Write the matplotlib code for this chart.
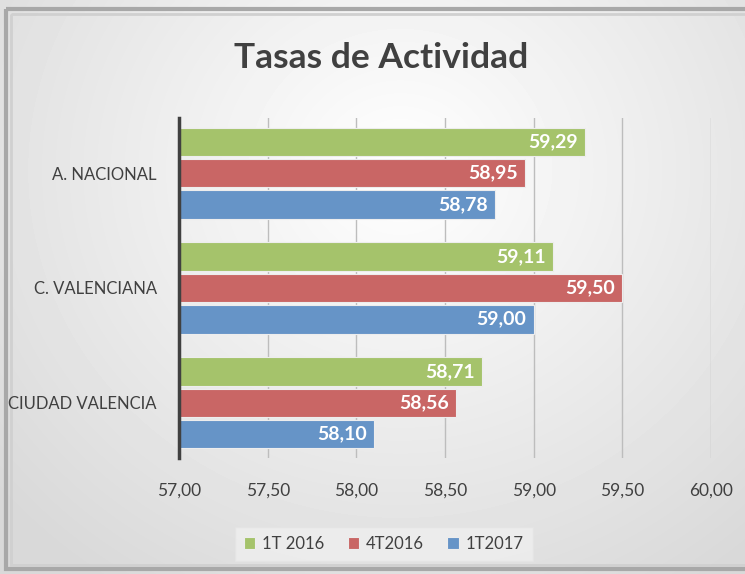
import numpy as np
import matplotlib.pyplot as plt
from matplotlib.patches import Rectangle

# Datos
categorias = ['A. NACIONAL', 'C. VALENCIANA', 'CIUDAD VALENCIA']
series = ['1T 2016', '4T2016', '1T2017']
t1_2016 = [59.29, 59.11, 58.71]
t4_2016 = [58.95, 59.50, 58.56]
t1_2017 = [58.78, 59.00, 58.10]
ticks_x = [57.0, 57.5, 58.0, 58.5, 59.0, 59.5, 60.0]

colores = ['#A5C36B', '#C96665', '#6694C7']
plt.rcParams['font.family'] = ['Lato', 'DejaVu Sans']

fig = plt.figure(figsize=(7.45, 5.74), dpi=100)

# Fondo con degradado radial
bg = fig.add_axes([0, 0, 1, 1], zorder=0)
yy, xx = np.mgrid[0:574, 0:745]
d = np.sqrt(((xx - 400) / 600.0) ** 2 + ((yy - 170) / 560.0) ** 2)
val = np.clip(1.0 - 0.17 * d, 0.85, 1.0)
bg.imshow(val, cmap='gray', vmin=0, vmax=1, extent=[0, 745, 574, 0], aspect='auto')
# Marco
bg.add_patch(Rectangle((6, 9), 760, 560, fill=False, edgecolor='#A8A8A8', lw=3))
bg.add_patch(Rectangle((11, 14), 760, 551, fill=False, edgecolor='#D0D0D0', lw=2))
bg.set_xlim(0, 745)
bg.set_ylim(574, 0)
bg.axis('off')

ax = fig.add_axes([179 / 745, 1 - 458 / 574, (711 - 179) / 745, (458 - 118) / 574], zorder=1)
ax.patch.set_alpha(0)

pos = np.arange(len(categorias))
alto = 0.25
paso = 0.272
for i, (vals, nombre) in enumerate(zip([t1_2016, t4_2016, t1_2017], series)):
    y = pos + (i - 1) * paso
    ax.barh(y, np.array(vals) - 57.0, left=57.0, height=alto, color=colores[i],
            edgecolor='#EDEDED', linewidth=0.8, label=nombre, zorder=3)
    for yv, v in zip(y, vals):
        ax.text(v - 0.04, yv, f'{v:.2f}'.replace('.', ','), ha='right', va='center',
                color='white', fontsize=14, fontweight='bold', zorder=4)

ax.set_xlim(57.0, 60.0)
ax.set_ylim(2.48, -0.48)
ax.set_xticks(ticks_x)
ax.set_xticklabels([f'{t:.2f}'.replace('.', ',') for t in ticks_x], fontsize=12.5, color='#404040')
ax.set_yticks(pos)
ax.set_yticklabels(categorias, fontsize=12, color='#404040')
ax.tick_params(axis='both', length=0)
ax.tick_params(axis='x', pad=18)
ax.tick_params(axis='y', pad=16)
ax.grid(axis='x', color='#BDBDBD', linewidth=1, zorder=0)
for s in ['top', 'right', 'bottom']:
    ax.spines[s].set_visible(False)
ax.spines['left'].set_color('#404040')
ax.spines['left'].set_linewidth(2.5)
ax.spines['left'].set_zorder(5)

fig.text(0.512, 0.899, 'Tasas de Actividad', ha='center', va='center', fontsize=25.5,
         fontweight='bold', color='#404040')

leg = fig.legend(loc='center', bbox_to_anchor=(0.515, 0.052), ncol=3, frameon=True,
                 fontsize=12, handlelength=0.7, handleheight=0.7, handletextpad=0.4,
                 columnspacing=1.4, fancybox=False, borderpad=0.55)
leg.get_frame().set_facecolor('#EFEFEF')
leg.get_frame().set_edgecolor('#E4E4E4')
for t in leg.get_texts():
    t.set_color('#404040')

fig.savefig('out.png', dpi=100)
